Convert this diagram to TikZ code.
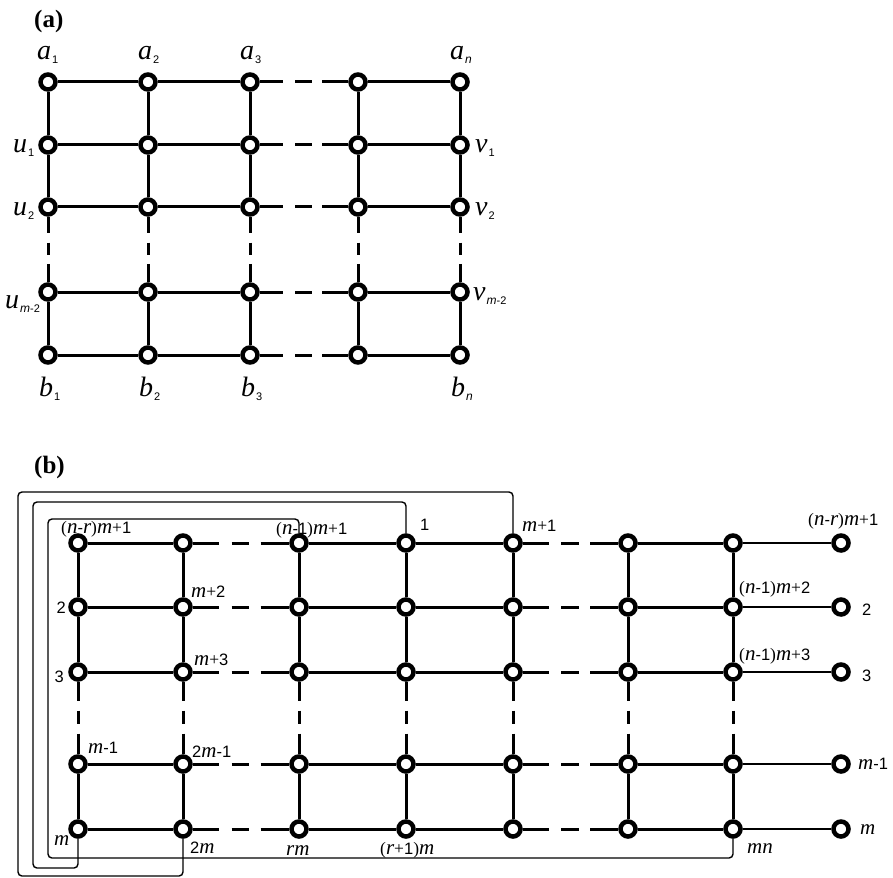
\documentclass[tikz,border=0pt]{standalone}
\usepackage{fontspec}
\setmainfont{Liberation Serif}
\setsansfont{Liberation Sans}
\usetikzlibrary{calc,backgrounds}

% italic letters and sans digits used in the grid labels
\newcommand\iv[1]{{\fontsize{21}{21}\selectfont\itshape #1}}
\newcommand\sv[1]{{\fontsize{16.5}{16.5}\selectfont\sffamily #1}}
% large vertex label with a small subscript
\newcommand\bl[2]{{\fontsize{28}{28}\selectfont\itshape #1}\kern1pt\raisebox{-4pt}{\fontsize{11}{11}\selectfont\sffamily #2}}
\newcommand\sbi[1]{{\fontsize{12}{12}\selectfont\itshape #1}}

% an edge interrupted by a short dash: "solid - gap - dash - gap - solid"
\newcommand\gapedge[2]{%
  \draw[edge] (#1) -- ($(#1)!0.31!(#2)$);
  \draw[edge] ($(#1)!0.42!(#2)$) -- ($(#1)!0.57!(#2)$);
  \draw[edge] ($(#1)!0.67!(#2)$) -- (#2);}

\tikzset{
  vtx/.style={circle,draw,fill=white,line width=4.5pt,minimum size=15pt,inner sep=0pt},
  edge/.style={line width=3pt},
  thinedge/.style={line width=1.4pt},
  route/.style={line width=1.4pt,rounded corners=4pt},
  lbl/.style={inner sep=0pt,anchor=base west,font=\fontsize{17.5}{17.5}\selectfont},
  biglbl/.style={inner sep=0pt,anchor=base west},
  title/.style={inner sep=0pt,anchor=base west,font=\fontsize{25}{25}\selectfont\bfseries},
}

\begin{document}
\begin{tikzpicture}[x=1pt,y=-1pt]
\useasboundingbox (0,0) rectangle (893,877);

% ---------------- (a) ----------------
\node[title] (ta) at (34,28) {(a)};

\foreach \cx/\xx in {1/48,2/148,3/250,4/358,5/460}
  \foreach \ry/\yy in {1/82,2/145,3/207,4/292,5/355}
    \node[vtx] (a\cx\ry) at (\xx,\yy) {};

\begin{scope}[on background layer]
\foreach \ry in {1,...,5}{
  \draw[edge] (a1\ry) -- (a2\ry);
  \draw[edge] (a2\ry) -- (a3\ry);
  \gapedge{a3\ry}{a4\ry}
  \draw[edge] (a4\ry) -- (a5\ry);
}
\foreach \cx in {1,...,5}{
  \draw[edge] (a\cx1) -- (a\cx2);
  \draw[edge] (a\cx2) -- (a\cx3);
  \gapedge{a\cx3}{a\cx4}
  \draw[edge] (a\cx4) -- (a\cx5);
}
\end{scope}

\node[biglbl] (la1) at (37,60) {\bl{a}{1}};
\node[biglbl] (la2) at (138,60) {\bl{a}{2}};
\node[biglbl] (la3) at (240,60) {\bl{a}{3}};
\node[biglbl] (lan) at (450,60) {\bl{a}{\sbi{n}}};
\node[biglbl] (lu1) at (13,153) {\bl{u}{1}};
\node[biglbl] (lu2) at (13,215) {\bl{u}{2}};
\node[biglbl] (lum) at (5,308) {\bl{u}{\sbi{m}-2}};
\node[biglbl] (lv1) at (475,153) {\bl{v}{1}};
\node[biglbl] (lv2) at (475,215) {\bl{v}{2}};
\node[biglbl] (lvm) at (473,300) {\bl{v}{\sbi{m}-2}};
\node[biglbl] (lb1) at (39,396) {\bl{b}{1}};
\node[biglbl] (lb2) at (139,396) {\bl{b}{2}};
\node[biglbl] (lb3) at (241,396) {\bl{b}{3}};
\node[biglbl] (lbn) at (451,396) {\bl{b}{\sbi{n}}};

% ---------------- (b) ----------------
\node[title] (tb) at (34,473) {(b)};

\foreach \cx/\xx in {1/78,2/183,3/299,4/406,5/513,6/628,7/733}
  \foreach \ry/\yy in {1/543,2/607,3/672,4/764,5/829}
    \node[vtx] (b\cx\ry) at (\xx,\yy) {};
\foreach \ry/\yy in {1/543,2/607,3/672,4/764,5/829}
  \node[vtx] (p\ry) at (841,\yy) {};

% wrap-around connections
\coordinate (i1) at (48,519);  \coordinate (i2) at (48,858);
\coordinate (m1) at (33,502);  \coordinate (m2) at (33,868);
\coordinate (o1) at (18,492);  \coordinate (o2) at (18,876);

\begin{scope}[on background layer]
\draw[route] (b31) |- (i1) -- (i2) -| (b75);
\draw[route] (b41) |- (m1) -- (m2) -| (b15);
\draw[route] (b51) |- (o1) -- (o2) -| (b25);

\foreach \ry in {1,...,5}{
  \draw[edge] (b1\ry) -- (b2\ry);
  \gapedge{b2\ry}{b3\ry}
  \draw[edge] (b3\ry) -- (b4\ry);
  \draw[edge] (b4\ry) -- (b5\ry);
  \gapedge{b5\ry}{b6\ry}
  \draw[edge] (b6\ry) -- (b7\ry);
  \draw[thinedge] (b7\ry) -- (p\ry);
}
\foreach \cx in {1,...,7}{
  \draw[edge] (b\cx1) -- (b\cx2);
  \draw[edge] (b\cx2) -- (b\cx3);
  \gapedge{b\cx3}{b\cx4}
  \draw[edge] (b\cx4) -- (b\cx5);
}
\end{scope}

\node[lbl] (l01) at (61,533) {(\iv{n}\sv{-}\iv{r})\iv{m}+\sv{1}};
\node[lbl] (l02) at (276,534) {(\iv{n}\sv{-1})\iv{m}+\sv{1}};
\node[lbl] (l03) at (420,530) {\sv{1}};
\node[lbl] (l04) at (522,531) {\iv{m}+\sv{1}};
\node[lbl] (l05) at (808,525) {(\iv{n}\sv{-}\iv{r})\iv{m}+\sv{1}};
\node[lbl] (l06) at (191,597) {\iv{m}+\sv{2}};
\node[lbl,anchor=base east] (l07) at (66,613) {\sv{2}};
\node[lbl] (l08) at (739,593) {(\iv{n}\sv{-1})\iv{m}+\sv{2}};
\node[lbl] (l09) at (862,615) {\sv{2}};
\node[lbl,anchor=base east] (l10) at (64,682) {\sv{3}};
\node[lbl] (l11) at (194,665) {\iv{m}+\sv{3}};
\node[lbl] (l12) at (739,660) {(\iv{n}\sv{-1})\iv{m}+\sv{3}};
\node[lbl] (l13) at (862,681) {\sv{3}};
\node[lbl] (l14) at (88,753) {\iv{m}\sv{-1}};
\node[lbl] (l15) at (192,757) {\sv{2}\iv{m}\sv{-1}};
\node[lbl] (l16) at (858,769) {\iv{m}\sv{-1}};
\node[lbl] (l17) at (54,845) {\iv{m}};
\node[lbl] (l18) at (190,853) {\sv{2}\iv{m}};
\node[lbl] (l19) at (286,855) {\iv{rm}};
\node[lbl] (l20) at (380,854) {(\iv{r}+\sv{1})\iv{m}};
\node[lbl] (l21) at (747,853) {\iv{mn}};
\node[lbl] (l22) at (860,834) {\iv{m}};
\end{tikzpicture}
\end{document}
